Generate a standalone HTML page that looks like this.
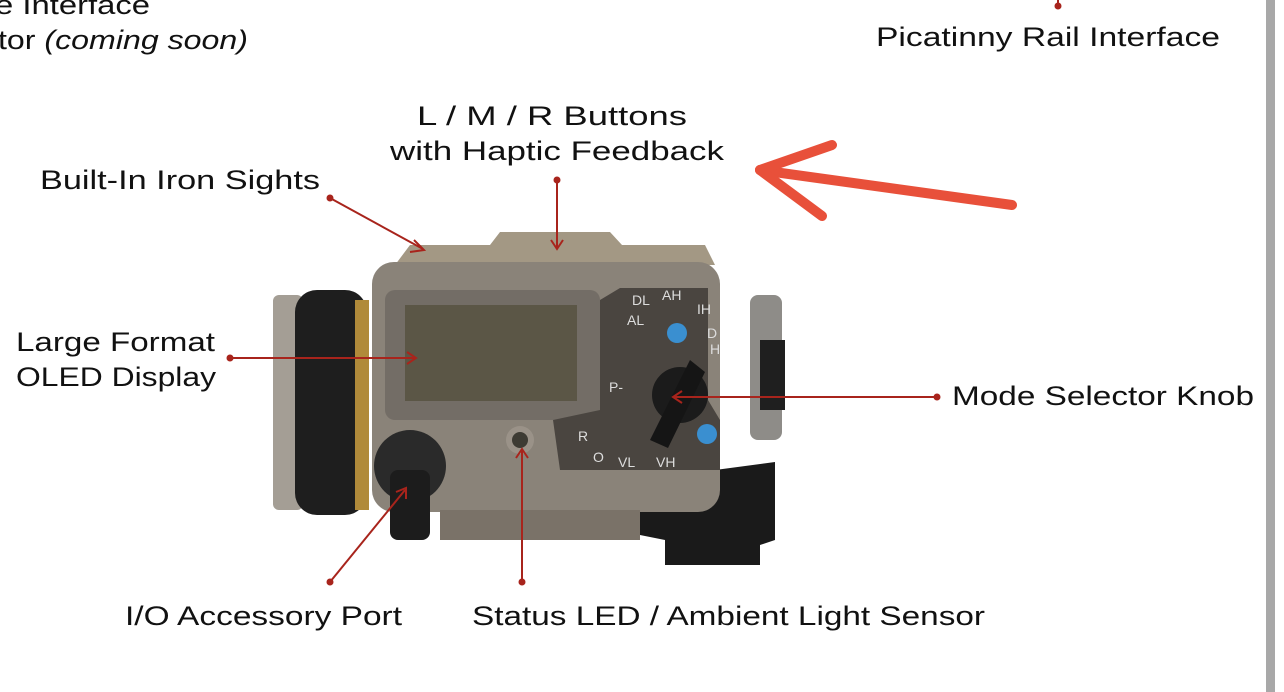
<!DOCTYPE html>
<html><head><meta charset="utf-8"><style>
html,body{margin:0;padding:0;background:#fff;}
svg{display:block;}
text{font-family:"Liberation Sans",sans-serif;fill:#111;font-size:27px;}
.d{font-size:14px;fill:#ddd;}
</style></head><body>
<svg width="1284" height="692" viewBox="0 0 1284 692" xmlns="http://www.w3.org/2000/svg">
<rect x="0" y="0" width="1284" height="692" fill="#fff"/>
<rect x="1266" y="0" width="9" height="692" fill="#a8a8a8"/>

<text x="-5" y="14" textLength="155" lengthAdjust="spacingAndGlyphs">e Interface</text>
<text x="-2" y="49" textLength="250" lengthAdjust="spacingAndGlyphs">tor <tspan font-style="italic">(coming soon)</tspan></text>
<text x="876" y="46" textLength="344" lengthAdjust="spacingAndGlyphs">Picatinny Rail Interface</text>
<text x="417" y="125" textLength="270" lengthAdjust="spacingAndGlyphs">L / M / R Buttons</text>
<text x="390" y="160" textLength="334" lengthAdjust="spacingAndGlyphs">with Haptic Feedback</text>
<text x="40" y="189" textLength="280" lengthAdjust="spacingAndGlyphs">Built-In Iron Sights</text>
<text x="16" y="351" textLength="199" lengthAdjust="spacingAndGlyphs">Large Format</text>
<text x="16" y="386" textLength="200" lengthAdjust="spacingAndGlyphs">OLED Display</text>
<text x="952" y="405" textLength="302" lengthAdjust="spacingAndGlyphs">Mode Selector Knob</text>
<text x="125" y="625" textLength="277" lengthAdjust="spacingAndGlyphs">I/O Accessory Port</text>
<text x="472" y="625" textLength="513" lengthAdjust="spacingAndGlyphs">Status LED / Ambient Light Sensor</text>

<rect x="273" y="295" width="30" height="215" rx="6" fill="#a49e95"/>
<rect x="295" y="290" width="72" height="225" rx="22" fill="#1e1e1e"/>
<rect x="355" y="300" width="14" height="210" fill="#b08a3a"/>
<path d="M395 265 L410 245 L490 245 L500 232 L610 232 L622 245 L705 245 L715 265 Z" fill="#a39884"/>
<path d="M640 480 L775 462 L775 540 L760 545 L760 565 L665 565 L665 540 L640 535 Z" fill="#1a1a1a"/>
<rect x="372" y="262" width="348" height="250" rx="22" fill="#8a8379"/>
<path d="M440 510 L640 510 L640 540 L440 540 Z" fill="#7a7268"/>
<rect x="385" y="290" width="215" height="130" rx="10" fill="#736d66"/>
<rect x="405" y="305" width="172" height="96" fill="#5b5646"/>
<path d="M620 288 L708 288 L708 400 L720 420 L720 470 L560 470 L553 420 L600 410 L600 300 Z" fill="#4a4540"/>
<circle cx="680" cy="395" r="28" fill="#1b1b1b"/>
<path d="M650 440 L690 360 L705 372 L668 448 Z" fill="#151515"/>
<circle cx="677" cy="333" r="10" fill="#3a8fd0"/>
<circle cx="707" cy="434" r="10" fill="#3a8fd0"/>
<text class="d" x="632" y="305">DL</text><text class="d" x="662" y="300">AH</text><text class="d" x="697" y="314">IH</text>
<text class="d" x="627" y="325">AL</text><text class="d" x="707" y="338">D</text><text class="d" x="710" y="354">H</text>
<text class="d" x="609" y="392">P-</text><text class="d" x="578" y="441">R</text><text class="d" x="593" y="462">O</text>
<text class="d" x="618" y="467">VL</text><text class="d" x="656" y="467">VH</text>
<circle cx="410" cy="466" r="36" fill="#2a2a2a"/>
<rect x="390" y="470" width="40" height="70" rx="8" fill="#1c1c1c"/>
<circle cx="520" cy="440" r="14" fill="#9a9288"/>
<circle cx="520" cy="440" r="8" fill="#3d3b33"/>
<rect x="750" y="295" width="32" height="145" rx="8" fill="#8e8c88"/>
<rect x="760" y="340" width="25" height="70" fill="#1f1f1f"/>

<g stroke="#a8241c" stroke-width="2" fill="none">
<line x1="330" y1="198" x2="423" y2="249"/>
<line x1="557" y1="180" x2="557" y2="248"/>
<line x1="230" y1="358" x2="415" y2="358"/>
<line x1="937" y1="397" x2="674" y2="397"/>
<line x1="330" y1="582" x2="405" y2="490"/>
<line x1="522" y1="582" x2="522" y2="450"/>
<path d="M414 240 L424 250 L410 252"/>
<path d="M551 240 L557 249 L563 240"/>
<path d="M407 352 L416 358 L407 364"/>
<path d="M682 391 L673 397 L682 403"/>
<path d="M396 492 L406 488 L406 499"/>
<path d="M516 458 L522 449 L528 458"/>
</g>
<g fill="#a8241c">
<circle cx="330" cy="198" r="3.5"/><circle cx="557" cy="180" r="3.5"/><circle cx="230" cy="358" r="3.5"/>
<circle cx="937" cy="397" r="3.5"/><circle cx="330" cy="582" r="3.5"/><circle cx="522" cy="582" r="3.5"/>
<circle cx="1058" cy="6" r="3.5"/><line x1="1058" y1="0" x2="1058" y2="6" stroke="#a8241c" stroke-width="2"/>
</g>

<g stroke="#e8503a" stroke-width="10" stroke-linecap="round" fill="none">
<line x1="1012" y1="205" x2="760" y2="170"/>
<line x1="760" y1="170" x2="832" y2="145"/>
<line x1="760" y1="170" x2="822" y2="216"/>
</g>
</svg>
</body></html>
